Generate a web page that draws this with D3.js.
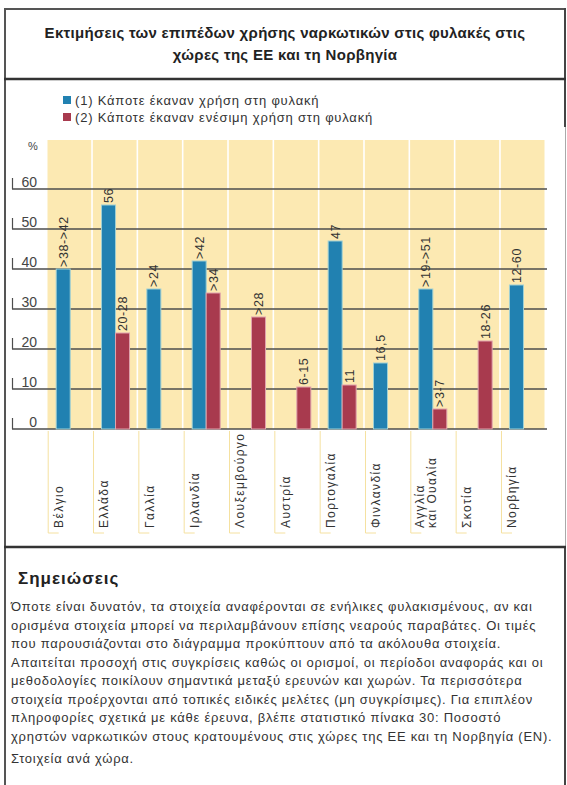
<!DOCTYPE html>
<html>
<head>
<meta charset="utf-8">
<style>
body { margin: 0; background: #fff; }
svg text { font-family: "Liberation Sans", Arial, sans-serif; }
</style>
</head>
<body>

<svg id="mysvg" width="567" height="785"></svg>

<script src="https://d3js.org/d3.v7.min.js"></script>

<script>

// data (bar = middle of the reported range)
var countries = ["Βέλγιο", "Ελλάδα", "Γαλλία", "Ιρλανδία", "Λουξεμβούργο", "Αυστρία",
                 "Πορτογαλία", "Φινλανδία", "Αγγλία|και Ουαλία", "Σκοτία", "Νορβηγία"]
var everUse = [40, 56, 35, 42, null, null, 47, 16.5, 35, null, 36]
var everLabels = [">38->42", "56", ">24", ">42", "", "", "47", "16,5", ">19->51", "", "12-60"]
var injUse = [null, 24, null, 34, 28, 10.5, 11, null, 5, 22, null]
var injLabels = ["", "20-28", "", ">34", ">28", "6-15", "11", "", ">3-7", "18-26", ""]
var yTicks = [0, 10, 20, 30, 40, 50, 60]
var seriesNames = ["(1) Κάποτε έκαναν χρήση στη φυλακή", "(2) Κάποτε έκαναν ενέσιμη χρήση στη φυλακή"]
var colors = ["#2181b1", "#a83a4e"]
var strokes = ["#9fd0d4", "#e0a3ad"]

var title = ["Εκτιμήσεις των επιπέδων χρήσης ναρκωτικών στις φυλακές στις",
             "χώρες της ΕΕ και τη Νορβηγία"]
var notesTitle = "Σημειώσεις"
var notes = [
  "Όποτε είναι δυνατόν, τα στοιχεία αναφέρονται σε ενήλικες φυλακισμένους, αν και",
  "ορισμένα στοιχεία μπορεί να περιλαμβάνουν επίσης νεαρούς παραβάτες. Οι τιμές",
  "που παρουσιάζονται στο διάγραμμα προκύπτουν από τα ακόλουθα στοιχεία.",
  "Απαιτείται προσοχή στις συγκρίσεις καθώς οι ορισμοί, οι περίοδοι αναφοράς και οι",
  "μεθοδολογίες ποικίλουν σημαντικά μεταξύ ερευνών και χωρών. Τα περισσότερα",
  "στοιχεία προέρχονται από τοπικές ειδικές μελέτες (μη συγκρίσιμες). Για επιπλέον",
  "πληροφορίες σχετικά με κάθε έρευνα, βλέπε στατιστικό πίνακα 30: Ποσοστό",
  "χρηστών ναρκωτικών στους κρατουμένους στις χώρες της ΕΕ και τη Νορβηγία (EN)."
]
var notesLast = "Στοιχεία ανά χώρα."

var svg = d3.select("#mysvg")

var x = d3.scaleBand().domain(d3.range(countries.length)).range([46.7, 545.3])
var xs = d3.scaleBand().domain([0, 1]).range([9.5, 37.5])
var y = d3.scaleLinear().domain([0, 60]).range([429, 189])

// frame
var frame = svg.append("g").attr("fill", "none")
frame.append("line").attr("x1", 5).attr("x2", 5).attr("y1", 8).attr("y2", 785)
     .attr("stroke", "#555").attr("stroke-width", 2)
frame.append("line").attr("x1", 4).attr("x2", 566).attr("y1", 9).attr("y2", 9)
     .attr("stroke", "#555").attr("stroke-width", 2)
frame.append("line").attr("x1", 565).attr("x2", 565).attr("y1", 8).attr("y2", 127)
     .attr("stroke", "#444").attr("stroke-width", 2)
frame.append("line").attr("x1", 565.5).attr("x2", 565.5).attr("y1", 127).attr("y2", 546)
     .attr("stroke", "#aaa").attr("stroke-width", 1)
frame.append("line").attr("x1", 565).attr("x2", 565).attr("y1", 546).attr("y2", 785)
     .attr("stroke", "#444").attr("stroke-width", 2)
frame.append("line").attr("x1", 4).attr("x2", 566).attr("y1", 79).attr("y2", 79)
     .attr("stroke", "#333").attr("stroke-width", 2.5)
frame.append("line").attr("x1", 4).attr("x2", 566).attr("y1", 547).attr("y2", 547)
     .attr("stroke", "#333").attr("stroke-width", 2.5)

// title
svg.selectAll(".title").data(title).enter().append("text")
   .attr("class", "title")
   .attr("x", 285).attr("y", function(d, i){ return 38 + i*22 })
   .attr("text-anchor", "middle")
   .attr("font-size", "15px").attr("font-weight", "bold").attr("letter-spacing", "0.3px")
   .attr("fill", "#222")
   .text(function(d){ return d })

// legend
var leg = svg.selectAll(".leg").data(seriesNames).enter().append("g")
   .attr("class", "leg")
   .attr("transform", function(d, i){ return "translate(63," + (96 + i*17) + ")" })
leg.append("rect").attr("width", 8).attr("height", 8)
   .attr("fill", function(d, i){ return colors[i] })
leg.append("text").attr("x", 12).attr("y", 8.5)
   .attr("font-size", "13px").attr("letter-spacing", "0.8px").attr("fill", "#333")
   .text(function(d){ return d })

// yellow category columns
svg.selectAll(".col").data(countries).enter().append("rect")
   .attr("class", "col")
   .attr("x", function(d, i){ return x(i) + 0.8 })
   .attr("width", x.bandwidth() - 1.6)
   .attr("y", 140).attr("height", y(0) - 140)
   .attr("fill", "#fce9b2")

// gridlines and ticks
var tick = svg.selectAll(".tick").data(yTicks).enter().append("g")
   .attr("class", "tick")
   .attr("transform", function(d){ return "translate(0," + y(d) + ")" })
tick.append("line").attr("x1", 12).attr("x2", 547)
   .attr("stroke", "#4d4d4d").attr("stroke-width", 1.4)
tick.append("line").attr("x1", 12.5).attr("x2", 12.5).attr("y1", -11).attr("y2", 0)
   .attr("stroke", "#4d4d4d").attr("stroke-width", 1.2)
tick.append("text").attr("x", 37).attr("y", -2)
   .attr("text-anchor", "end").attr("font-size", "14px").attr("fill", "#444")
   .text(function(d){ return d })
svg.append("text").attr("x", 33).attr("y", 150).attr("text-anchor", "middle")
   .attr("font-size", "11px").attr("fill", "#444").text("%")

// bars
var series = [everUse, injUse]
var labels = [everLabels, injLabels]
series.forEach(function(vals, s){
  var pts = vals.map(function(v, i){ return {i: i, v: v, t: labels[s][i]} })
               .filter(function(d){ return d.v != null })
  svg.selectAll(".bar" + s).data(pts).enter().append("rect")
     .attr("class", "bar" + s)
     .attr("x", function(d){ return x(d.i) + xs(s) })
     .attr("width", xs.bandwidth())
     .attr("y", function(d){ return y(d.v) })
     .attr("height", function(d){ return y(0) - y(d.v) })
     .attr("fill", colors[s])
     .attr("stroke", strokes[s]).attr("stroke-width", 1)
  svg.selectAll(".val" + s).data(pts).enter().append("text")
     .attr("class", "val" + s)
     .attr("transform", function(d){
       return "translate(" + (x(d.i) + xs(s) + xs.bandwidth()/2 + 4.5) + "," + (y(d.v) - 2) + ") rotate(-90)"
     })
     .attr("font-size", "12.5px").attr("letter-spacing", "0.6px").attr("fill", "#333")
     .text(function(d){ return d.t })
})

// category labels under the axis
var cat = svg.selectAll(".cat").data(countries).enter().append("g")
   .attr("class", "cat")
   .attr("transform", function(d, i){ return "translate(" + x(i) + ",0)" })
cat.append("path")
   .attr("d", "M1.5,431V533H12")
   .attr("fill", "none").attr("stroke", "#f5e1a0").attr("stroke-width", 1)
cat.each(function(d){
  var lines = d.split("|")
  var g = d3.select(this)
  lines.forEach(function(l, k){
    g.append("text")
     .attr("transform", "translate(" + (12 - (lines.length - 1)*2 + k*12.5 + 4.3) + ",528) rotate(-90)")
     .attr("font-size", "12px").attr("letter-spacing", "1.4px").attr("fill", "#333")
     .text(l)
  })
})

// notes
svg.append("text").attr("x", 18).attr("y", 584)
   .attr("font-size", "17px").attr("font-weight", "bold").attr("letter-spacing", "1px")
   .attr("fill", "#222")
   .text(notesTitle)
svg.selectAll(".note").data(notes).enter().append("text")
   .attr("class", "note")
   .attr("x", 11).attr("y", function(d, i){ return 611 + i*18.5 })
   .attr("font-size", "13px").attr("letter-spacing", "0.75px").attr("fill", "#333")
   .text(function(d){ return d })
svg.append("text").attr("x", 11).attr("y", 611 + (notes.length - 1)*18.5 + 22)
   .attr("font-size", "13px").attr("letter-spacing", "0.75px").attr("fill", "#333")
   .text(notesLast)

</script>

</body>
</html>
